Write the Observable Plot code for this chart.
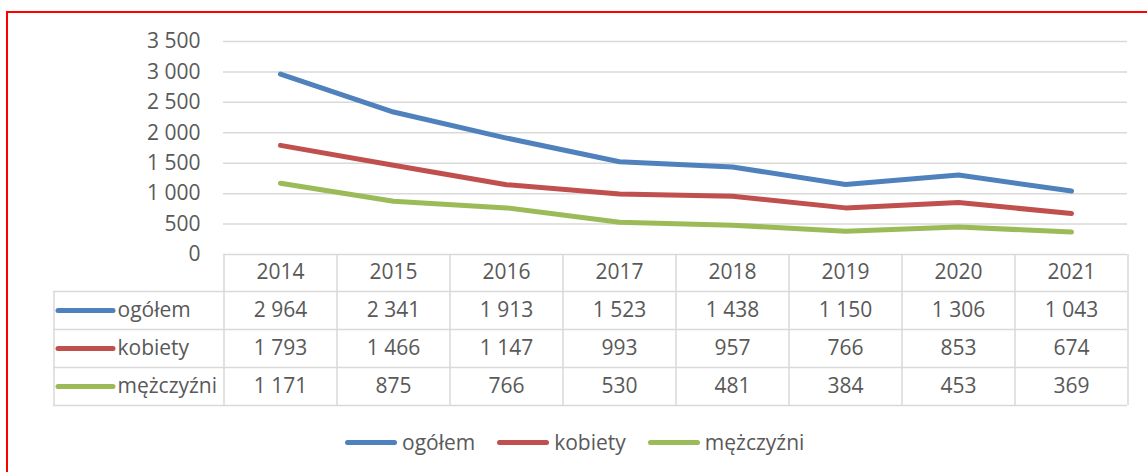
<!DOCTYPE html>
<html>
<head>
<meta charset="utf-8">
<script src="https://cdn.jsdelivr.net/npm/d3@7"></script>
<script src="https://cdn.jsdelivr.net/npm/@observablehq/plot@0.6"></script>
<style>
  html, body { margin: 0; padding: 0; background: #fff; overflow: hidden; }
  body { width: 1147px; height: 472px; position: relative; font-family: "Open Sans", sans-serif; }
  #frame { position: absolute; left: 6px; top: 11px; width: 1200px; height: 520px; border: 2px solid #ff0000; pointer-events: none; }
  #legend { display: flex; align-items: center; margin-left: 345px; height: 44px; font-size: 21px; color: #595959; }
  .item { display: flex; align-items: center; margin-right: 22px; }
  .key { display: inline-block; width: 52px; height: 5px; border-radius: 3px; margin-right: 5px; }
</style>
</head>
<body>
<div id="chart"></div>
<div id="legend"></div>
<div id="frame"></div>
<script>
const years = [2014, 2015, 2016, 2017, 2018, 2019, 2020, 2021];
const seriesNames = ["ogółem", "kobiety", "mężczyźni"];
const ogolem = [2964, 2341, 1913, 1523, 1438, 1150, 1306, 1043];
const kobiety = [1793, 1466, 1147, 993, 957, 766, 853, 674];
const mezczyzni = [1171, 875, 766, 530, 481, 384, 453, 369];
const colors = ["#4F81BD", "#C0504D", "#9BBB59"];
const yTicks = [0, 500, 1000, 1500, 2000, 2500, 3000, 3500];

const seriesValues = [ogolem, kobiety, mezczyzni];
const data = seriesNames.flatMap((s, i) => years.map((y, j) => ({series: s, year: y, value: seriesValues[i][j]})));
const fmt = d => d3.format(",")(d).replace(/,/g, "\u00a0");

const grey = "#D9D9D9";
const txt = "#595959";
const fs = 21;
const half = 56.5;         // half column width
const rowDy = [56, 94, 132]; // row text centres below y=0
const lineDy = [37, 75, 113, 151];

const marks = [
  Plot.gridY(yTicks, {stroke: grey, strokeOpacity: 1, strokeWidth: 1.5}),
  Plot.axisY(yTicks, {tickSize: 0, tickPadding: 23, tickFormat: fmt, fill: txt, fontSize: fs, label: null}),
  // table horizontal rules
  ...lineDy.map(dy => Plot.ruleY([0], {dy, stroke: grey, strokeWidth: 1.5, insetLeft: -170})),
  // table vertical rules
  Plot.ruleX(years, {x: d => d, dx: -half, stroke: grey, strokeWidth: 1.5, insetTop: 213, insetBottom: -151}),
  Plot.ruleX([years[years.length - 1]], {x: d => d, dx: half, stroke: grey, strokeWidth: 1.5, insetTop: 213, insetBottom: -151}),
  Plot.ruleX([years[0]], {x: d => d, dx: -half - 170, stroke: grey, strokeWidth: 1.5, insetTop: 250, insetBottom: -151}),
  // header row
  Plot.text(years, {x: d => d, y: 0, dy: 18, text: d => String(d), fill: txt, fontSize: fs}),
  // value rows
  ...seriesNames.map((s, i) => Plot.text(data.filter(d => d.series === s), {x: "year", y: 0, dy: rowDy[i], text: d => fmt(d.value), fill: txt, fontSize: fs})),
  // row legend keys + labels
  ...seriesNames.map((s, i) => Plot.ruleY([0], {dy: rowDy[i], stroke: colors[i], strokeWidth: 5, strokeLinecap: "round", insetLeft: -165, insetRight: 1014})),
  ...seriesNames.map((s, i) => Plot.text([s], {frameAnchor: "left", y: 0, dy: rowDy[i], dx: -106, text: d => d, textAnchor: "start", fill: txt, fontSize: fs})),
  // lines
  Plot.lineY(data, {x: "year", y: "value", z: "series", stroke: "series", strokeWidth: 5, strokeLinecap: "round", strokeLinejoin: "round"})
];

const chart = Plot.plot({
  width: 1147,
  height: 420,
  marginLeft: 223,
  marginRight: 20,
  marginTop: 41,
  marginBottom: 166,
  style: {fontFamily: "'Open Sans', sans-serif", fontSize: fs + "px", color: txt, background: "transparent", overflow: "visible"},
  x: {type: "point", domain: years, padding: 0.5, axis: null},
  y: {domain: [0, 3500], axis: null},
  color: {domain: seriesNames, range: colors},
  marks
});
document.getElementById("chart").appendChild(chart);

const legend = document.getElementById("legend");
seriesNames.forEach((s, i) => {
  const item = document.createElement("div");
  item.className = "item";
  const key = document.createElement("span");
  key.className = "key";
  key.style.background = colors[i];
  const label = document.createElement("span");
  label.textContent = s;
  item.appendChild(key);
  item.appendChild(label);
  legend.appendChild(item);
});
</script>
</body>
</html>
